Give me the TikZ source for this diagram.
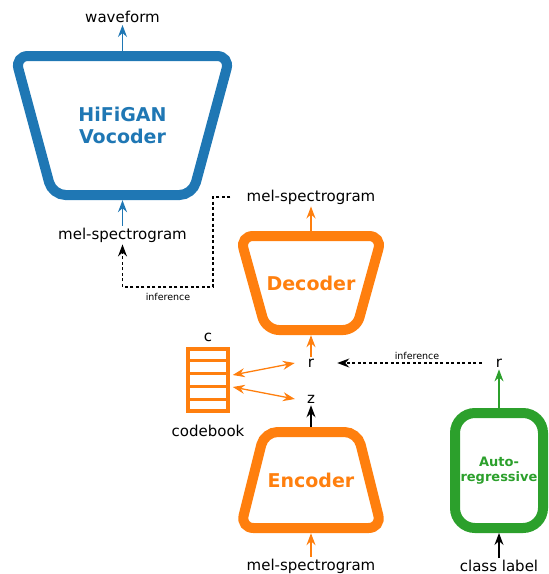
\documentclass[tikz,border=0pt]{standalone}
\usepackage{fontspec}
\setmainfont{DejaVu Sans}
\usetikzlibrary{positioning, arrows.meta, calc}
\definecolor{tabblue}{HTML}{1F77B4}
\definecolor{taborange}{HTML}{FF7F0E}
\definecolor{tabgreen}{HTML}{2CA02C}

% trapezoid outline round a node: node, top half width, bottom half width, half height, colour
\newcommand{\trapbox}[5]{%
    \draw[#5, line width=10pt, rounded corners=13pt]
        ($(#1)+(-#2,-#4)$) -- ($(#1)+(#2,-#4)$) -- ($(#1)+(#3,#4)$) -- ($(#1)+(-#3,#4)$) -- cycle;}

\begin{document}
\begin{tikzpicture}[x=1pt, y=-1pt,
    arrow/.style={-{Stealth[length=12pt, width=9pt, inset=4pt]}, line width=1.3pt},
    twoway/.style={{Stealth[length=12pt, width=9pt, inset=4pt]}-{Stealth[length=12pt, width=9pt, inset=4pt]},
        line width=1.3pt, taborange},
    infer/.style={dash pattern=on 3pt off 2.5pt, line width=1.1pt, -{Stealth[length=12pt, width=9pt, inset=4pt]}},
    blockname/.style={inner sep=0pt, align=center, font=\fontsize{19}{22}\selectfont\bfseries},
    lbl/.style={font=\fontsize{15}{18}\selectfont, inner sep=2pt},
    tiny/.style={font=\fontsize{9.5}{11}\selectfont, inner sep=1pt}
]
    \useasboundingbox (0,0) rectangle (549,574);

    % === Vocoder ===
    \node[blockname, text=tabblue, minimum width=225pt, minimum height=149pt]
        (voc) at (122.5,125.5) {HiFiGAN\\Vocoder};
    \trapbox{voc}{107.5}{70}{69.5}{tabblue}
    \node[lbl] (wave) at (122.5,17) {waveform};
    \node[lbl] (melin) at (122.5,235) {mel-spectrogram};
    \draw[arrow, tabblue] (voc.north) -- (wave.south);
    \draw[arrow, tabblue] (melin.north) -- (voc.south);

    % === Decoder ===
    \node[blockname, text=taborange, minimum width=152pt, minimum height=104pt]
        (dec) at (311,283) {Decoder};
    \trapbox{dec}{71}{45}{47}{taborange}
    \node[lbl] (melout) at (311,197) {mel-spectrogram};
    \node[lbl] (r) at (311,363) {r};
    \draw[arrow, taborange] (dec.north) -- (melout.south);
    \draw[arrow, taborange] (r.north) -- (dec.south);

    % inference path back to the vocoder
    \coordinate (bend) at (213,287);
    \draw[infer] ([xshift=-14pt]melout.west) -| (bend) -| (melin.south);
    \node[tiny] (inf1) at (168,297) {inference};

    % === Codebook ===
    \node[draw=taborange, line width=3.5pt, minimum width=40pt, minimum height=62pt,
        inner sep=0pt] (cb) at (208,380) {};
    \foreach \i in {1,...,4}
        \draw[taborange, line width=3.5pt] ($(cb.north west)!\i/5!(cb.south west)$)
            -- ($(cb.north east)!\i/5!(cb.south east)$);
    \node[lbl] (c) at (208,337) {c};
    \node[lbl] (cbname) at (208,431) {codebook};

    % === Encoder ===
    \node[blockname, text=taborange, minimum width=151pt, minimum height=106pt]
        (enc) at (311,480) {Encoder};
    \trapbox{enc}{46.5}{70.5}{48}{taborange}
    \node[lbl] (z) at (311,399) {z};
    \node[lbl] (melenc) at (311,566) {mel-spectrogram};
    \draw[arrow] (enc.north) -- (z.south);
    \draw[arrow, taborange] (melenc.north) -- (enc.south);

    \draw[twoway] ([xshift=3pt, yshift=5pt]cb.east) -- ([xshift=-11pt]r.west);
    \draw[twoway] ([xshift=3pt, yshift=-7pt]cb.east) -- ([xshift=-10pt]z.west);

    % === Autoregressive prior ===
    \node[draw=tabgreen, text=tabgreen, line width=10pt, rounded corners=20pt,
        minimum width=88pt, minimum height=115pt, align=center,
        font=\fontsize{13}{15}\selectfont\bfseries] (ar) at (499,470.5) {Auto-\\regressive};
    \node[lbl] (rprior) at (499,363) {r};
    \node[lbl] (cls) at (499,566) {class label};
    \draw[arrow, tabgreen] (ar.north) -- (rprior.south);
    \draw[arrow] (cls.north) -- (ar.south);

    \draw[infer] ([xshift=-12pt]rprior.west) -- ([xshift=21pt]r.east);
    \node[tiny] (inf2) at (417,356) {inference};

\end{tikzpicture}
\end{document}
